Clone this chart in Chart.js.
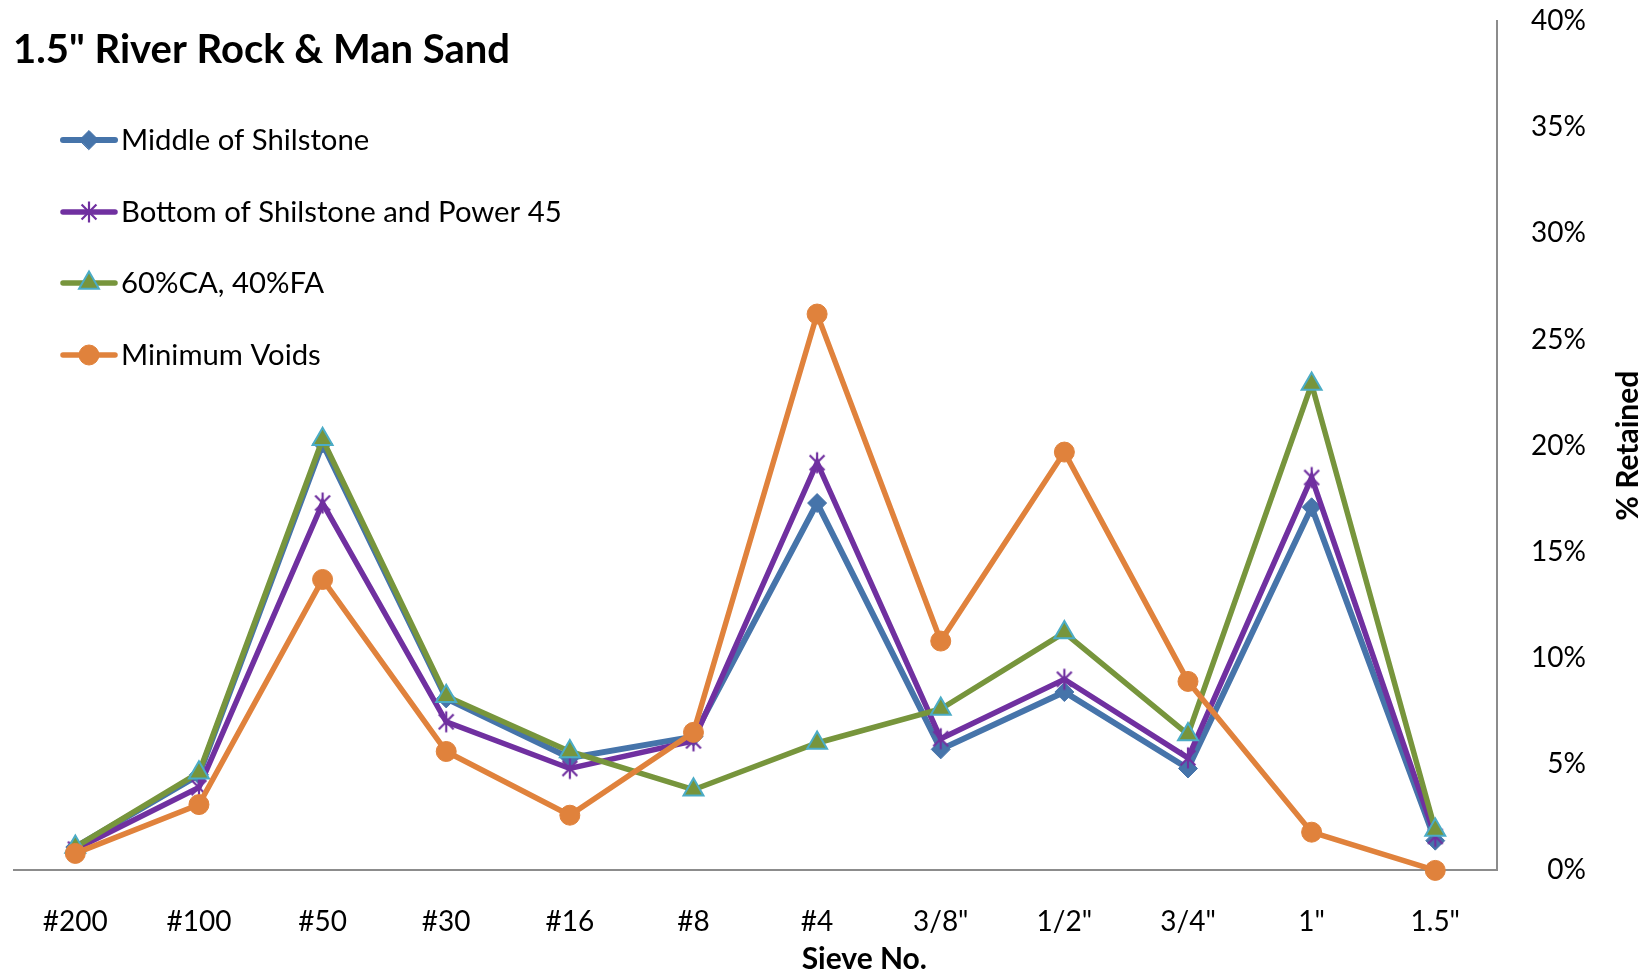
<!DOCTYPE html>
<html>
<head>
<meta charset="utf-8">
<script src="https://cdn.jsdelivr.net/npm/chart.js@4.4.1/dist/chart.umd.min.js"></script>
<style>
  html, body { margin: 0; padding: 0; background: #fff; }
  #wrap { width: 1652px; height: 976px; position: relative; }
</style>
</head>
<body>
<div id="wrap"><canvas id="grafico"></canvas></div>
<script>
const chartTitle = '1.5" River Rock & Man Sand';
const xTitle = 'Sieve No.';
const yTitle = '% Retained';

const sieves = ['#200', '#100', '#50', '#30', '#16', '#8', '#4', '3/8"', '1/2"', '3/4"', '1"', '1.5"'];

const seriesNames = ['Middle of Shilstone', 'Bottom of Shilstone and Power 45', '60%CA, 40%FA', 'Minimum Voids'];

const middleShilstone = [1.1, 4.5, 20.1, 8.1, 5.3, 6.3, 17.3, 5.7, 8.4, 4.8, 17.1, 1.4];
const bottomShilstone = [1.0, 3.9, 17.3, 7.0, 4.8, 6.1, 19.2, 6.2, 9.0, 5.3, 18.5, 1.6];
const caFa = [1.1, 4.6, 20.3, 8.2, 5.6, 3.8, 6.0, 7.6, 11.2, 6.4, 22.9, 1.9];
const minVoids = [0.8, 3.1, 13.7, 5.6, 2.6, 6.5, 26.2, 10.8, 19.7, 8.9, 1.8, 0];

// star marker like the excel one (X plus a vertical bar)
function makeStar(color, r, lw) {
  const c = document.createElement('canvas');
  const s = Math.ceil(2 * r + lw * 2);
  c.width = s; c.height = s;
  const g = c.getContext('2d');
  g.strokeStyle = color;
  g.lineWidth = lw;
  const m = s / 2, d = r * Math.SQRT1_2;
  g.beginPath();
  g.moveTo(m, m - r); g.lineTo(m, m + r);
  g.moveTo(m - d, m - d); g.lineTo(m + d, m + d);
  g.moveTo(m - d, m + d); g.lineTo(m + d, m - d);
  g.stroke();
  return c;
}

const star = makeStar('#7030A0', 10.5, 2.2);

Chart.defaults.font.family = 'Lato, "Open Sans", sans-serif';
Chart.defaults.color = '#000';

// titles + legend drawn by hand (excel puts them inside the plot)
const overlay = {
  id: 'overlay',
  afterDraw(chart) {
    const { ctx, chartArea } = chart;
    ctx.save();
    ctx.fillStyle = '#000';
    ctx.textAlign = 'left';
    ctx.textBaseline = 'alphabetic';
    ctx.font = 'bold 40px Lato';
    ctx.fillText(chartTitle, 13, 63);

    const legY = [140, 212, 283, 355];
    chart.data.datasets.forEach((ds, i) => {
      const y = legY[i];
      ctx.strokeStyle = ds.borderColor;
      ctx.lineWidth = ds.borderWidth;
      ctx.lineCap = 'round';
      ctx.beginPath();
      ctx.moveTo(63, y);
      ctx.lineTo(115, y);
      ctx.stroke();
      ctx.fillStyle = ds.pointBackgroundColor;
      ctx.strokeStyle = ds.pointBorderColor;
      ctx.lineWidth = ds.pointBorderWidth;
      Chart.helpers.drawPoint(ctx, {
        pointStyle: ds.pointStyle, rotation: 0,
        radius: ds.pointRadius, borderWidth: ds.pointBorderWidth
      }, 89, y);
      ctx.fillStyle = '#000';
      ctx.font = '29.3px Lato';
      ctx.textBaseline = 'middle';
      ctx.fillText(ds.label, 121, y + 1);
    });

    ctx.font = 'bold 30px Lato';
    ctx.textAlign = 'center';
    ctx.textBaseline = 'middle';
    ctx.fillText(xTitle, (chartArea.left + chartArea.right) / 2 + 109, 959);

    ctx.translate(1628, (chartArea.top + chartArea.bottom) / 2);
    ctx.rotate(-Math.PI / 2);
    ctx.fillText(yTitle, 0, 0);
    ctx.restore();
  }
};

new Chart(document.getElementById('grafico'), {
  type: 'line',
  data: {
    labels: sieves,
    datasets: [
      {
        label: seriesNames[0],
        data: middleShilstone,
        borderColor: '#4674AA',
        borderWidth: 6,
        pointStyle: 'rectRot',
        pointRadius: 9.5,
        pointBackgroundColor: '#4674AA',
        pointBorderColor: '#4674AA',
        pointBorderWidth: 1,
        order: 4,
        clip: false
      },
      {
        label: seriesNames[1],
        data: bottomShilstone,
        borderColor: '#7030A0',
        borderWidth: 5.5,
        pointStyle: star,
        pointRadius: 10,
        pointBackgroundColor: '#7030A0',
        pointBorderColor: '#7030A0',
        pointBorderWidth: 0,
        order: 3,
        clip: false
      },
      {
        label: seriesNames[2],
        data: caFa,
        borderColor: '#77953C',
        borderWidth: 5.5,
        pointStyle: 'triangle',
        pointRadius: 11.5,
        pointBackgroundColor: '#77953C',
        pointBorderColor: '#4BACC6',
        pointBorderWidth: 2,
        order: 2,
        clip: false
      },
      {
        label: seriesNames[3],
        data: minVoids,
        borderColor: '#E0823C',
        borderWidth: 5.5,
        pointStyle: 'circle',
        pointRadius: 10,
        pointBackgroundColor: '#E0823C',
        pointBorderColor: '#E0823C',
        pointBorderWidth: 1,
        order: 1,
        clip: false
      }
    ]
  },
  options: {
    responsive: true,
    maintainAspectRatio: false,
    animation: false,
    layout: { padding: { left: 10, top: 21, right: 66, bottom: 3 } },
    plugins: {
      legend: { display: false },
      tooltip: { enabled: false }
    },
    scales: {
      x: {
        offset: true,
        grid: { display: false, drawTicks: false },
        border: { display: true, color: '#8c8c8c', width: 2 },
        ticks: { font: { size: 28 }, padding: 34.5, maxRotation: 0, autoSkip: false },
        afterFit: s => { s.paddingLeft = 0; s.paddingRight = 0; }
      },
      y: {
        position: 'right',
        min: 0,
        max: 40,
        grid: { display: false, drawTicks: false },
        border: { display: true, color: '#8c8c8c', width: 2 },
        ticks: {
          stepSize: 5,
          font: { size: 28 },
          padding: 17,
          crossAlign: 'far',
          callback: v => v + '%'
        },
        afterFit: s => { s.paddingTop = 0; s.paddingBottom = 0; }
      }
    }
  },
  plugins: [overlay]
});
</script>
</body>
</html>
